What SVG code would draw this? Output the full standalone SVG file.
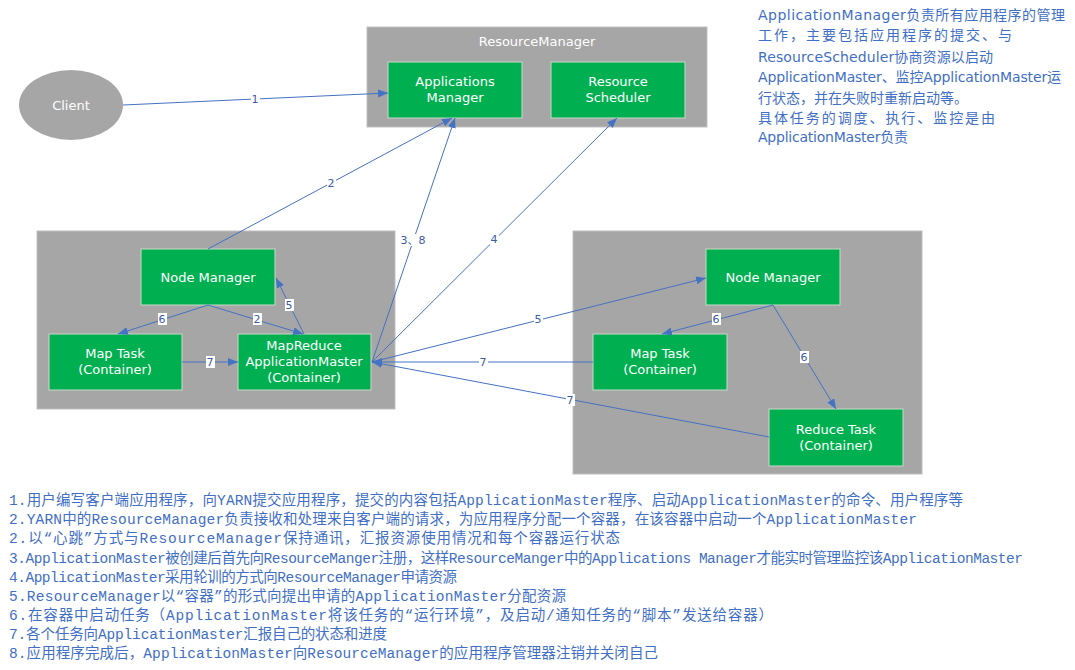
<svg xmlns="http://www.w3.org/2000/svg" width="1075" height="670" viewBox="0 0 1075 670">
<style>
.cont{fill:#A6A6A6;stroke:#BFBFBF;stroke-width:1}
.node{fill:#00B050;stroke:#C8D8C8;stroke-width:1}
.nt{font-family:"DejaVu Sans",sans-serif;font-size:13px;fill:#FFFFFF;text-anchor:middle}
.edge{stroke:#4472C4;stroke-width:1;fill:none}
.lb{fill:#FFFFFF}
.lt{font-family:"DejaVu Sans","Noto Sans CJK SC",sans-serif;font-size:11px;fill:#3B5BA5;text-anchor:middle}
.note{font-family:"DejaVu Sans","Noto Sans CJK SC",sans-serif;font-size:14px;fill:#3F6FC6}
.steps{font-family:"Liberation Mono","Noto Sans CJK SC",monospace;font-size:14.5px;fill:#3F6FC6}
</style>
<defs>
<marker id="arr" markerUnits="userSpaceOnUse" markerWidth="11" markerHeight="9" refX="10" refY="4" orient="auto">
<path d="M0,0 L10,4 L0,8 z" fill="#4472C4"/>
</marker>
</defs>
<rect width="1075" height="670" fill="#FFFFFF"/>

<g id="client">
<ellipse cx="71" cy="105" rx="52" ry="35" fill="#A6A6A6"/>
<text class="nt" x="71" y="110">Client</text>
</g>

<g id="resourcemanager">
<rect class="cont" x="367" y="27" width="340" height="100"/>
<text class="nt" x="537" y="46">ResourceManager</text>
</g>
<g id="applications-manager">
<rect class="node" x="388" y="62" width="134" height="56"/>
<text class="nt" x="455" y="86">Applications</text>
<text class="nt" x="455" y="102">Manager</text>
</g>
<g id="resource-scheduler">
<rect class="node" x="551" y="62" width="134" height="56"/>
<text class="nt" x="618" y="86">Resource</text>
<text class="nt" x="618" y="102">Scheduler</text>
</g>

<g id="left-host">
<rect class="cont" x="37" y="231" width="358" height="178"/>
</g>
<g id="nm-left">
<rect class="node" x="141" y="249" width="134" height="56"/>
<text class="nt" x="208" y="282">Node Manager</text>
</g>
<g id="maptask-left">
<rect class="node" x="49" y="334" width="133" height="56"/>
<text class="nt" x="115" y="358">Map Task</text>
<text class="nt" x="115" y="374">(Container)</text>
</g>
<g id="appmaster">
<rect class="node" x="238" y="334" width="133" height="56"/>
<text class="nt" x="304" y="350">MapReduce</text>
<text class="nt" x="304" y="366">ApplicationMaster</text>
<text class="nt" x="304" y="382">(Container)</text>
</g>

<g id="right-host">
<rect class="cont" x="573" y="231" width="349" height="243"/>
</g>
<g id="nm-right">
<rect class="node" x="706" y="249" width="134" height="56"/>
<text class="nt" x="773" y="282">Node Manager</text>
</g>
<g id="maptask-right">
<rect class="node" x="593" y="334" width="134" height="56"/>
<text class="nt" x="660" y="358">Map Task</text>
<text class="nt" x="660" y="374">(Container)</text>
</g>
<g id="reducetask">
<rect class="node" x="769" y="409" width="134" height="57"/>
<text class="nt" x="836" y="434">Reduce Task</text>
<text class="nt" x="836" y="450">(Container)</text>
</g>

<g id="connectors">
<line class="edge" x1="123" y1="105" x2="388" y2="93" marker-end="url(#arr)"/>
<line class="edge" x1="208" y1="249" x2="452" y2="118" marker-end="url(#arr)"/>
<line class="edge" x1="372" y1="362" x2="455" y2="118" marker-end="url(#arr)"/>
<line class="edge" x1="372" y1="362" x2="617" y2="118" marker-end="url(#arr)"/>
<line class="edge" x1="372" y1="362" x2="706" y2="278" marker-end="url(#arr)"/>
<line class="edge" x1="593" y1="362" x2="372" y2="362" marker-end="url(#arr)"/>
<line class="edge" x1="769" y1="437" x2="372" y2="362" marker-end="url(#arr)"/>
<line class="edge" x1="208" y1="305" x2="118" y2="334" marker-end="url(#arr)"/>
<line class="edge" x1="208" y1="305" x2="303" y2="334" marker-end="url(#arr)"/>
<line class="edge" x1="304" y1="334" x2="276" y2="278" marker-end="url(#arr)"/>
<line class="edge" x1="182" y1="362" x2="238" y2="362" marker-end="url(#arr)"/>
<line class="edge" x1="773" y1="305" x2="662" y2="334" marker-end="url(#arr)"/>
<line class="edge" x1="773" y1="305" x2="836" y2="409" marker-end="url(#arr)"/>

<rect class="lb" x="251" y="93" width="9" height="12"/><text class="lt" x="255" y="103">1</text>
<rect class="lb" x="327" y="177" width="9" height="12"/><text class="lt" x="331" y="187">2</text>
<rect class="lb" x="401" y="234" width="24" height="12"/><text class="lt" x="413" y="244">3、8</text>
<rect class="lb" x="490" y="233" width="9" height="12"/><text class="lt" x="494" y="243">4</text>
<rect class="lb" x="534" y="313" width="9" height="12"/><text class="lt" x="538" y="323">5</text>
<rect class="lb" x="479" y="356" width="9" height="12"/><text class="lt" x="483" y="366">7</text>
<rect class="lb" x="566" y="394" width="9" height="12"/><text class="lt" x="570" y="404">7</text>
<rect class="lb" x="158" y="313" width="9" height="12"/><text class="lt" x="162" y="323">6</text>
<rect class="lb" x="253" y="313" width="9" height="12"/><text class="lt" x="257" y="323">2</text>
<rect class="lb" x="285" y="299" width="9" height="12"/><text class="lt" x="289" y="309">5</text>
<rect class="lb" x="206" y="356" width="9" height="12"/><text class="lt" x="210" y="366">7</text>
<rect class="lb" x="712" y="313" width="9" height="12"/><text class="lt" x="716" y="323">6</text>
<rect class="lb" x="800" y="351" width="9" height="12"/><text class="lt" x="804" y="361">6</text>
</g>

<g id="note">
<text class="note" x="758" y="20" textLength="307" lengthAdjust="spacing">ApplicationManager负责所有应用程序的管理</text>
<text class="note" x="758" y="40" textLength="254" lengthAdjust="spacing">工作，主要包括应用程序的提交、与</text>
<text class="note" x="758" y="62" textLength="235" lengthAdjust="spacing">ResourceScheduler协商资源以启动</text>
<text class="note" x="758" y="82" textLength="303" lengthAdjust="spacing">ApplicationMaster、监控ApplicationMaster运</text>
<text class="note" x="758" y="103">行状态，并在失败时重新启动等。</text>
<text class="note" x="758" y="123" textLength="237" lengthAdjust="spacing">具体任务的调度、执行、监控是由</text>
<text class="note" x="758" y="142" textLength="150" lengthAdjust="spacing">ApplicationMaster负责</text>
</g>

<g id="steps">
<text class="steps" x="9" y="505" textLength="954" lengthAdjust="spacing">1.用户编写客户端应用程序，向YARN提交应用程序，提交的内容包括ApplicationMaster程序、启动ApplicationMaster的命令、用户程序等</text>
<text class="steps" x="9" y="524" textLength="908" lengthAdjust="spacing">2.YARN中的ResourceManager负责接收和处理来自客户端的请求，为应用程序分配一个容器，在该容器中启动一个ApplicationMaster</text>
<text class="steps" x="9" y="543" textLength="611" lengthAdjust="spacing">2.以“心跳”方式与ResourceManager保持通讯，汇报资源使用情况和每个容器运行状态</text>
<text class="steps" x="9" y="563" textLength="1014" lengthAdjust="spacing">3.ApplicationMaster被创建后首先向ResourceManger注册，这样ResourceManger中的Applications Manager才能实时管理监控该ApplicationMaster</text>
<text class="steps" x="9" y="582" textLength="448" lengthAdjust="spacing">4.ApplicationMaster采用轮训的方式向ResourceManager申请资源</text>
<text class="steps" x="9" y="601" textLength="557" lengthAdjust="spacing">5.ResourceManager以“容器”的形式向提出申请的ApplicationMaster分配资源</text>
<text class="steps" x="9" y="620" textLength="764" lengthAdjust="spacing">6.在容器中启动任务（ApplicationMaster将该任务的“运行环境”，及启动/通知任务的“脚本”发送给容器）</text>
<text class="steps" x="9" y="639" textLength="378" lengthAdjust="spacing">7.各个任务向ApplicationMaster汇报自己的状态和进度</text>
<text class="steps" x="9" y="658" textLength="649" lengthAdjust="spacing">8.应用程序完成后，ApplicationMaster向ResourceManager的应用程序管理器注销并关闭自己</text>
</g>
</svg>
